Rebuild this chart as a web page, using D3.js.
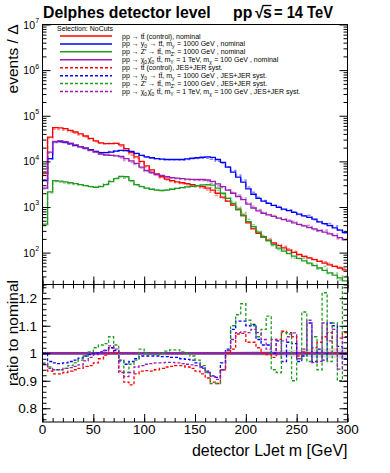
<!DOCTYPE html>
<html>
<head>
<meta charset="utf-8">
<script src="https://cdn.jsdelivr.net/npm/d3@7"></script>
<style>
  body { margin: 0; background: #fff; }
  svg { display: block; font-family: "Liberation Sans", Arial, Helvetica, sans-serif; }
</style>
</head>
<body>
<svg id="chart" width="390" height="473"></svg>
<script>
// binning: 5 GeV bins from 0 to 300 GeV
const binWidth = 5;
const binLow = d3.range(0, 300, binWidth);

// nominal histograms (events / bin)
const ttbarNominal = [5500, 34000, 55000, 54000, 52000, 48000, 44000, 40000, 36000, 32000,
  28000, 25500, 24500, 24500, 24800, 23000, 19000, 15500, 12500, 10000,
  8000, 6500, 5300, 4600, 4100, 3800, 3550, 3400, 3250, 3100,
  2950, 2800, 2600, 2350, 2000, 1650, 1350, 1100, 880, 650,
  450, 330, 265, 220, 188, 163, 143, 127, 113, 101,
  91, 83, 77, 70, 64, 59, 54, 50, 46, 42];
const y0Nominal = [3800, 11500, 27000, 27500, 26500, 24500, 22500, 21000, 19500, 18000,
  16500, 15500, 15500, 16000, 16800, 17500, 17500, 16500, 15000, 13500,
  12500, 12000, 11500, 11200, 11000, 11000, 11000, 11000, 11300, 11700,
  12000, 12300, 12500, 12200, 11000, 9500, 7500, 5800, 4500, 3500,
  2500, 1900, 1550, 1350, 1200, 1080, 980, 900, 830, 760,
  700, 640, 590, 540, 470, 430, 390, 350, 310, 275];
const zpNominal = [420, 2150, 3800, 3700, 3550, 3400, 3250, 3100, 2950, 2800,
  2700, 2800, 3100, 3600, 4200, 4700, 4600, 3800, 3100, 2800,
  2600, 2450, 2350, 2300, 2350, 2450, 2550, 2650, 2750, 2850,
  2950, 3050, 3100, 3000, 2600, 2000, 1550, 1200, 880, 650,
  480, 370, 280, 220, 180, 150, 125, 108, 95, 84,
  75, 66, 59, 52, 46, 41, 36, 32, 28, 24];
const chiNominal = [2600, 16000, 27500, 28000, 27000, 25000, 23000, 21000, 19500, 17500,
  16000, 14500, 13800, 13500, 13200, 12800, 11500, 10200, 9000, 7500,
  6300, 5700, 5200, 4900, 4600, 4400, 4300, 4200, 4100, 4050,
  4000, 4000, 3900, 3650, 3200, 2800, 2350, 2000, 1700, 1450,
  1150, 950, 820, 730, 670, 620, 570, 530, 490, 450,
  415, 385, 355, 330, 305, 280, 258, 235, 212, 190];

// JES+JER systematic / nominal ratios per bin
const ttbarRatio = [0.96, 0.935, 0.925, 0.925, 0.93, 0.935, 0.94, 0.945, 0.952, 0.955,
  0.965, 0.98, 0.993, 1.02, 1.0, 0.935, 0.895, 0.885, 0.925, 0.935,
  0.937, 0.935, 0.94, 0.945, 0.95, 0.952, 0.955, 0.955, 0.95, 0.945,
  0.935, 0.925, 0.91, 0.895, 0.89, 0.94, 1.0, 1.015, 1.07, 1.072,
  1.04, 1.04, 1.02, 1.0, 0.995, 0.985, 1.05, 1.08, 1.075, 1.06,
  0.99, 1.005, 1.0, 1.02, 1.04, 1.06, 1.075, 1.0, 1.055, 1.075];
const y0Ratio = [1.0, 0.97, 0.965, 0.962, 0.965, 0.97, 0.975, 0.982, 0.99, 0.995,
  1.0, 1.005, 1.01, 1.02, 1.01, 0.975, 0.96, 0.97, 0.98, 0.99,
  0.99, 0.99, 0.99, 0.988, 0.988, 0.985, 0.985, 0.98, 0.978, 0.975,
  0.965, 0.95, 0.935, 0.918, 0.912, 0.965, 1.015, 1.087, 1.117, 1.117,
  1.1, 1.105, 1.05, 1.03, 1.03, 1.0, 1.045, 0.97, 1.04, 1.035,
  0.97, 0.99, 1.11, 0.97, 1.015, 0.975, 1.11, 1.1, 1.025, 0.98];
const zpRatio = [0.965, 0.95, 0.94, 0.94, 0.945, 0.955, 0.965, 0.975, 0.99, 1.005,
  1.02, 1.03, 1.035, 1.06, 1.03, 0.97, 0.93, 0.96, 0.975, 1.015,
  1.0, 0.997, 0.995, 1.0, 1.008, 1.012, 1.012, 1.005, 1.0, 0.99,
  0.975, 0.955, 0.93, 0.89, 0.89, 0.94, 1.01, 1.1, 1.14, 1.18,
  1.12, 1.1, 1.06, 1.087, 1.135, 0.94, 0.93, 1.075, 1.07, 0.9,
  0.98, 1.15, 0.97, 1.06, 0.94, 1.22, 0.97, 1.11, 0.9, 1.27];
const chiRatio = [0.96, 0.945, 0.94, 0.94, 0.945, 0.948, 0.952, 0.958, 0.972, 0.985,
  0.995, 1.0, 1.01, 1.027, 1.015, 0.93, 0.915, 0.93, 0.95, 0.955,
  0.96, 0.962, 0.965, 0.965, 0.967, 0.967, 0.965, 0.962, 0.96, 0.958,
  0.955, 0.945, 0.93, 0.915, 0.905, 0.94, 1.01, 1.05, 1.075, 1.078,
  1.075, 1.087, 1.075, 1.05, 1.015, 1.05, 0.995, 1.045, 1.06, 1.074,
  0.98, 1.015, 1.12, 0.966, 0.97, 1.11, 1.045, 1.087, 0.942, 1.06];

// relative stat. uncertainty of the nominal (grey band in ratio panel)
const statErr = [0.002, 0.002, 0.002, 0.002, 0.002, 0.002, 0.002, 0.002, 0.002, 0.002,
  0.002, 0.002, 0.002, 0.002, 0.002, 0.002, 0.002, 0.002, 0.002, 0.002,
  0.002, 0.002, 0.002, 0.002, 0.002, 0.002, 0.002, 0.002, 0.002, 0.002,
  0.002, 0.002, 0.002, 0.002, 0.003, 0.003, 0.004, 0.005, 0.006, 0.006,
  0.007, 0.008, 0.008, 0.009, 0.01, 0.01, 0.011, 0.011, 0.012, 0.012,
  0.013, 0.013, 0.014, 0.015, 0.015, 0.016, 0.017, 0.018, 0.018, 0.02];

const seriesColors = ["#ff0000", "#0000ff", "#1f9c1f", "#9a1db0"];
const nominalSeries = [ttbarNominal, y0Nominal, zpNominal, chiNominal];
const ratioSeries = [ttbarRatio, y0Ratio, zpRatio, chiRatio];

// legend labels: plain strings or [text, "sub"] pieces
const legendNominal = [
  ["pp → tt\u0304 (control), nominal"],
  ["pp → y", ["0", "sub"], " → tt\u0304, m", ["y", "sub"], " = 1000 GeV , nominal"],
  ["pp → Z′ → tt\u0304, m", ["Z′", "sub"], " = 1000 GeV , nominal"],
  ["pp → χ", ["0", "sub"], "χ\u0304", ["0", "sub"], " tt\u0304, m", ["Y", "sub"], " = 1 TeV, m", ["χ", "sub"], " = 100 GeV , nominal"]
];
const legendSyst = [
  ["pp → tt\u0304 (control), JES+JER syst."],
  ["pp → y", ["0", "sub"], " → tt\u0304, m", ["y", "sub"], " = 1000 GeV , JES+JER syst."],
  ["pp → Z′ → tt\u0304, m", ["Z′", "sub"], " = 1000 GeV , JES+JER syst."],
  ["pp → χ", ["0", "sub"], "χ\u0304", ["0", "sub"], " tt\u0304, m", ["Y", "sub"], " = 1 TeV, m", ["χ", "sub"], " = 100 GeV , JES+JER syst."]
];

const xTicksMajor = [0, 50, 100, 150, 200, 250, 300];
const logDecades = [1e2, 1e3, 1e4, 1e5, 1e6, 1e7];
const ratioTicks = [0.8, 0.9, 1.0, 1.1, 1.2];

// ---------------- layout ----------------
const frame = {left: 42.5, right: 347.5};
const upper = {top: 24.5, bottom: 284.5};
const lower = {top: 284.5, bottom: 422};

const svg = d3.select("#chart");

const x = d3.scaleLinear().domain([0, 300]).range([frame.left, frame.right]);
const yUp = d3.scaleLog().domain([20, 1e7]).range([upper.bottom, upper.top]);
const yLo = d3.scaleLinear().domain([0.75, 1.25]).range([lower.bottom, lower.top]);

const defs = svg.append("defs");
defs.append("clipPath").attr("id", "clipUp").append("rect")
  .attr("x", frame.left).attr("y", upper.top)
  .attr("width", frame.right - frame.left).attr("height", upper.bottom - upper.top);
defs.append("clipPath").attr("id", "clipLo").append("rect")
  .attr("x", frame.left).attr("y", lower.top)
  .attr("width", frame.right - frame.left).attr("height", lower.bottom - lower.top);

// step path for a histogram
function histPoints(values) {
  const pts = [];
  values.forEach((v, i) => {
    pts.push([binLow[i], v]);
    pts.push([binLow[i] + binWidth, v]);
  });
  return pts;
}

// ---------------- upper panel ----------------
const gUp = svg.append("g").attr("clip-path", "url(#clipUp)");
const lineUp = d3.line().x(d => x(d[0])).y(d => yUp(Math.max(d[1], 1)));

// syst (dashed, pale)
nominalSeries.forEach((nom, k) => {
  const syst = nom.map((v, i) => v * ratioSeries[k][i]);
  gUp.append("path")
    .attr("d", lineUp(histPoints(syst)))
    .attr("fill", "none")
    .attr("stroke", seriesColors[k])
    .attr("stroke-opacity", 0.45)
    .attr("stroke-width", 1.6)
    .attr("stroke-dasharray", "3,2");
});
// nominal (solid)
nominalSeries.forEach((nom, k) => {
  gUp.append("path")
    .attr("d", lineUp(histPoints(nom)))
    .attr("fill", "none")
    .attr("stroke", seriesColors[k])
    .attr("stroke-width", 1.3);
});

// frame
svg.append("rect")
  .attr("x", frame.left).attr("y", upper.top)
  .attr("width", frame.right - frame.left).attr("height", upper.bottom - upper.top)
  .attr("fill", "none").attr("stroke", "#000").attr("stroke-width", 1);

// log minor ticks
const logMinor = [];
[10, 100, 1000, 1e4, 1e5, 1e6].forEach(d => {
  for (let m = 2; m <= 9; m++) if (d * m >= 20 && d * m <= 1e7) logMinor.push(d * m);
});

function tickGroup(axis, tx, ty) {
  const g = svg.append("g").attr("transform", `translate(${tx},${ty})`).call(axis);
  g.select(".domain").remove();
  g.selectAll(".tick line").attr("stroke", "#000").attr("stroke-width", 1);
  return g;
}

// left/right ticks of upper panel
tickGroup(d3.axisRight(yUp).tickValues(logDecades).tickSize(8).tickFormat(""), frame.left, 0);
tickGroup(d3.axisRight(yUp).tickValues(logMinor).tickSize(4).tickFormat(""), frame.left, 0);
tickGroup(d3.axisLeft(yUp).tickValues(logDecades).tickSize(8).tickFormat(""), frame.right, 0);
tickGroup(d3.axisLeft(yUp).tickValues(logMinor).tickSize(4).tickFormat(""), frame.right, 0);
// bottom x ticks of upper panel
tickGroup(d3.axisTop(x).tickValues(xTicksMajor).tickSize(8).tickFormat(""), 0, upper.bottom);
tickGroup(d3.axisTop(x).tickValues(d3.range(0, 301, 10)).tickSize(4).tickFormat(""), 0, upper.bottom);

// y labels 10^n
logDecades.forEach(v => {
  svg.append("text")
    .attr("x", 35).attr("y", yUp(v) + 4)
    .attr("text-anchor", "end")
    .attr("font-size", 10.5).attr("fill", "#000")
    .text("10");
  svg.append("text")
    .attr("x", 35.3).attr("y", yUp(v) - 1.5)
    .attr("font-size", 7).attr("fill", "#000")
    .text(Math.round(Math.log10(v)));
});

svg.append("text")
  .attr("transform", `translate(18,${upper.top}) rotate(-90)`)
  .attr("text-anchor", "end")
  .attr("font-size", 15.5)
  .text("events / Δ");

// ---------------- lower panel ----------------
const gLo = svg.append("g").attr("clip-path", "url(#clipLo)");

// stat band
const bandArea = d3.area()
  .x(d => x(d[0]))
  .y0(d => yLo(1 - d[1]))
  .y1(d => yLo(1 + d[1]));
gLo.append("path")
  .attr("d", bandArea(histPoints(statErr)))
  .attr("fill", "#c8c8c8").attr("fill-opacity", 0.6);

// nominal / nominal = 1
const lineLo = d3.line().x(d => x(d[0])).y(d => yLo(d[1]));
gLo.append("rect")
  .attr("x", frame.left).attr("width", frame.right - frame.left)
  .attr("y", yLo(1.005)).attr("height", yLo(0.995) - yLo(1.005))
  .attr("fill", "#c9a0d6").attr("fill-opacity", 0.5);
nominalSeries.forEach((nom, k) => {
  gLo.append("path")
    .attr("d", lineLo(histPoints(nom.map(() => 1))))
    .attr("fill", "none")
    .attr("stroke", seriesColors[k])
    .attr("stroke-width", 1.8);
});

// syst ratios (dashed)
ratioSeries.forEach((r, k) => {
  gLo.append("path")
    .attr("d", lineLo(histPoints(r)))
    .attr("fill", "none")
    .attr("stroke", seriesColors[k])
    .attr("stroke-width", 1.3)
    .attr("stroke-dasharray", "3,2");
});

svg.append("rect")
  .attr("x", frame.left).attr("y", lower.top)
  .attr("width", frame.right - frame.left).attr("height", lower.bottom - lower.top)
  .attr("fill", "none").attr("stroke", "#000").attr("stroke-width", 1);

const ratioMinor = d3.range(0.76, 1.25, 0.02);
tickGroup(d3.axisRight(yLo).tickValues(ratioTicks).tickSize(8).tickFormat(""), frame.left, 0);
tickGroup(d3.axisRight(yLo).tickValues(ratioMinor).tickSize(4).tickFormat(""), frame.left, 0);
tickGroup(d3.axisLeft(yLo).tickValues(ratioTicks).tickSize(8).tickFormat(""), frame.right, 0);
tickGroup(d3.axisLeft(yLo).tickValues(ratioMinor).tickSize(4).tickFormat(""), frame.right, 0);
tickGroup(d3.axisTop(x).tickValues(xTicksMajor).tickSize(8).tickFormat(""), 0, lower.bottom);
tickGroup(d3.axisTop(x).tickValues(d3.range(0, 301, 10)).tickSize(4).tickFormat(""), 0, lower.bottom);
tickGroup(d3.axisBottom(x).tickValues(xTicksMajor).tickSize(8).tickFormat(""), 0, lower.top);
tickGroup(d3.axisBottom(x).tickValues(d3.range(0, 301, 10)).tickSize(4).tickFormat(""), 0, lower.top);

ratioTicks.forEach(v => {
  svg.append("text")
    .attr("x", 37).attr("y", yLo(v) + 5)
    .attr("text-anchor", "end")
    .attr("font-size", 13.5)
    .text(v === 1 ? "1" : d3.format(".1f")(v));
});
xTicksMajor.forEach(v => {
  svg.append("text")
    .attr("x", x(v)).attr("y", 434)
    .attr("text-anchor", "middle")
    .attr("font-size", 13.5)
    .text(v);
});

svg.append("text")
  .attr("transform", `translate(18,280) rotate(-90)`)
  .attr("text-anchor", "end")
  .attr("font-size", 15.5)
  .text("ratio to nominal");

svg.append("text")
  .attr("x", frame.right).attr("y", 456)
  .attr("text-anchor", "end")
  .attr("font-size", 16)
  .text("detector LJet m [GeV]");

// ---------------- title ----------------
const titleSize = 15.8;
svg.append("text")
  .attr("x", 43).attr("y", 18)
  .attr("font-size", titleSize).attr("font-weight", "bold")
  .text("Delphes detector level");
svg.append("text")
  .attr("x", 233).attr("y", 18)
  .attr("font-size", titleSize).attr("font-weight", "bold")
  .text("pp");
svg.append("text")
  .attr("x", 255).attr("y", 18)
  .attr("font-size", titleSize).attr("font-weight", "bold")
  .text("√");
svg.append("text")
  .attr("x", 263).attr("y", 18)
  .attr("font-size", titleSize).attr("font-weight", "bold")
  .text("s");
svg.append("text")
  .attr("x", 274).attr("y", 18)
  .attr("font-size", titleSize).attr("font-weight", "bold")
  .attr("textLength", 59).attr("lengthAdjust", "spacingAndGlyphs")
  .text("= 14 TeV");
// overline of the square root
svg.append("line")
  .attr("x1", 262.5).attr("x2", 271.5)
  .attr("y1", 5.5).attr("y2", 5.5)
  .attr("stroke", "#000").attr("stroke-width", 1.3);

// ---------------- legend ----------------
svg.append("text")
  .attr("x", 57).attr("y", 31)
  .attr("font-size", 7)
  .text("Selection: NoCuts");

function richText(sel, pieces) {
  pieces.forEach(p => {
    if (typeof p === "string") {
      sel.append("tspan").text(p);
    } else {
      sel.append("tspan").attr("dy", 2).attr("font-size", 5).text(p[0]);
      sel.append("tspan").attr("dy", -2).text("\u200a");
    }
  });
}

const legendRows = legendNominal.map((lab, k) => ({lab, color: seriesColors[k], dash: null}))
  .concat(legendSyst.map((lab, k) => ({lab, color: seriesColors[k], dash: "3,2"})));
const legendY = d3.scaleLinear().domain([0, 7]).range([36, 91.5]);

legendRows.forEach((row, i) => {
  const yy = legendY(i);
  svg.append("line")
    .attr("x1", 60).attr("x2", 112)
    .attr("y1", yy).attr("y2", yy)
    .attr("stroke", row.color)
    .attr("stroke-width", 1.5)
    .attr("stroke-dasharray", row.dash);
  const t = svg.append("text")
    .attr("x", 122).attr("y", yy + 2.5)
    .attr("font-size", 7);
  richText(t, row.lab);
});
</script>
</body>
</html>
